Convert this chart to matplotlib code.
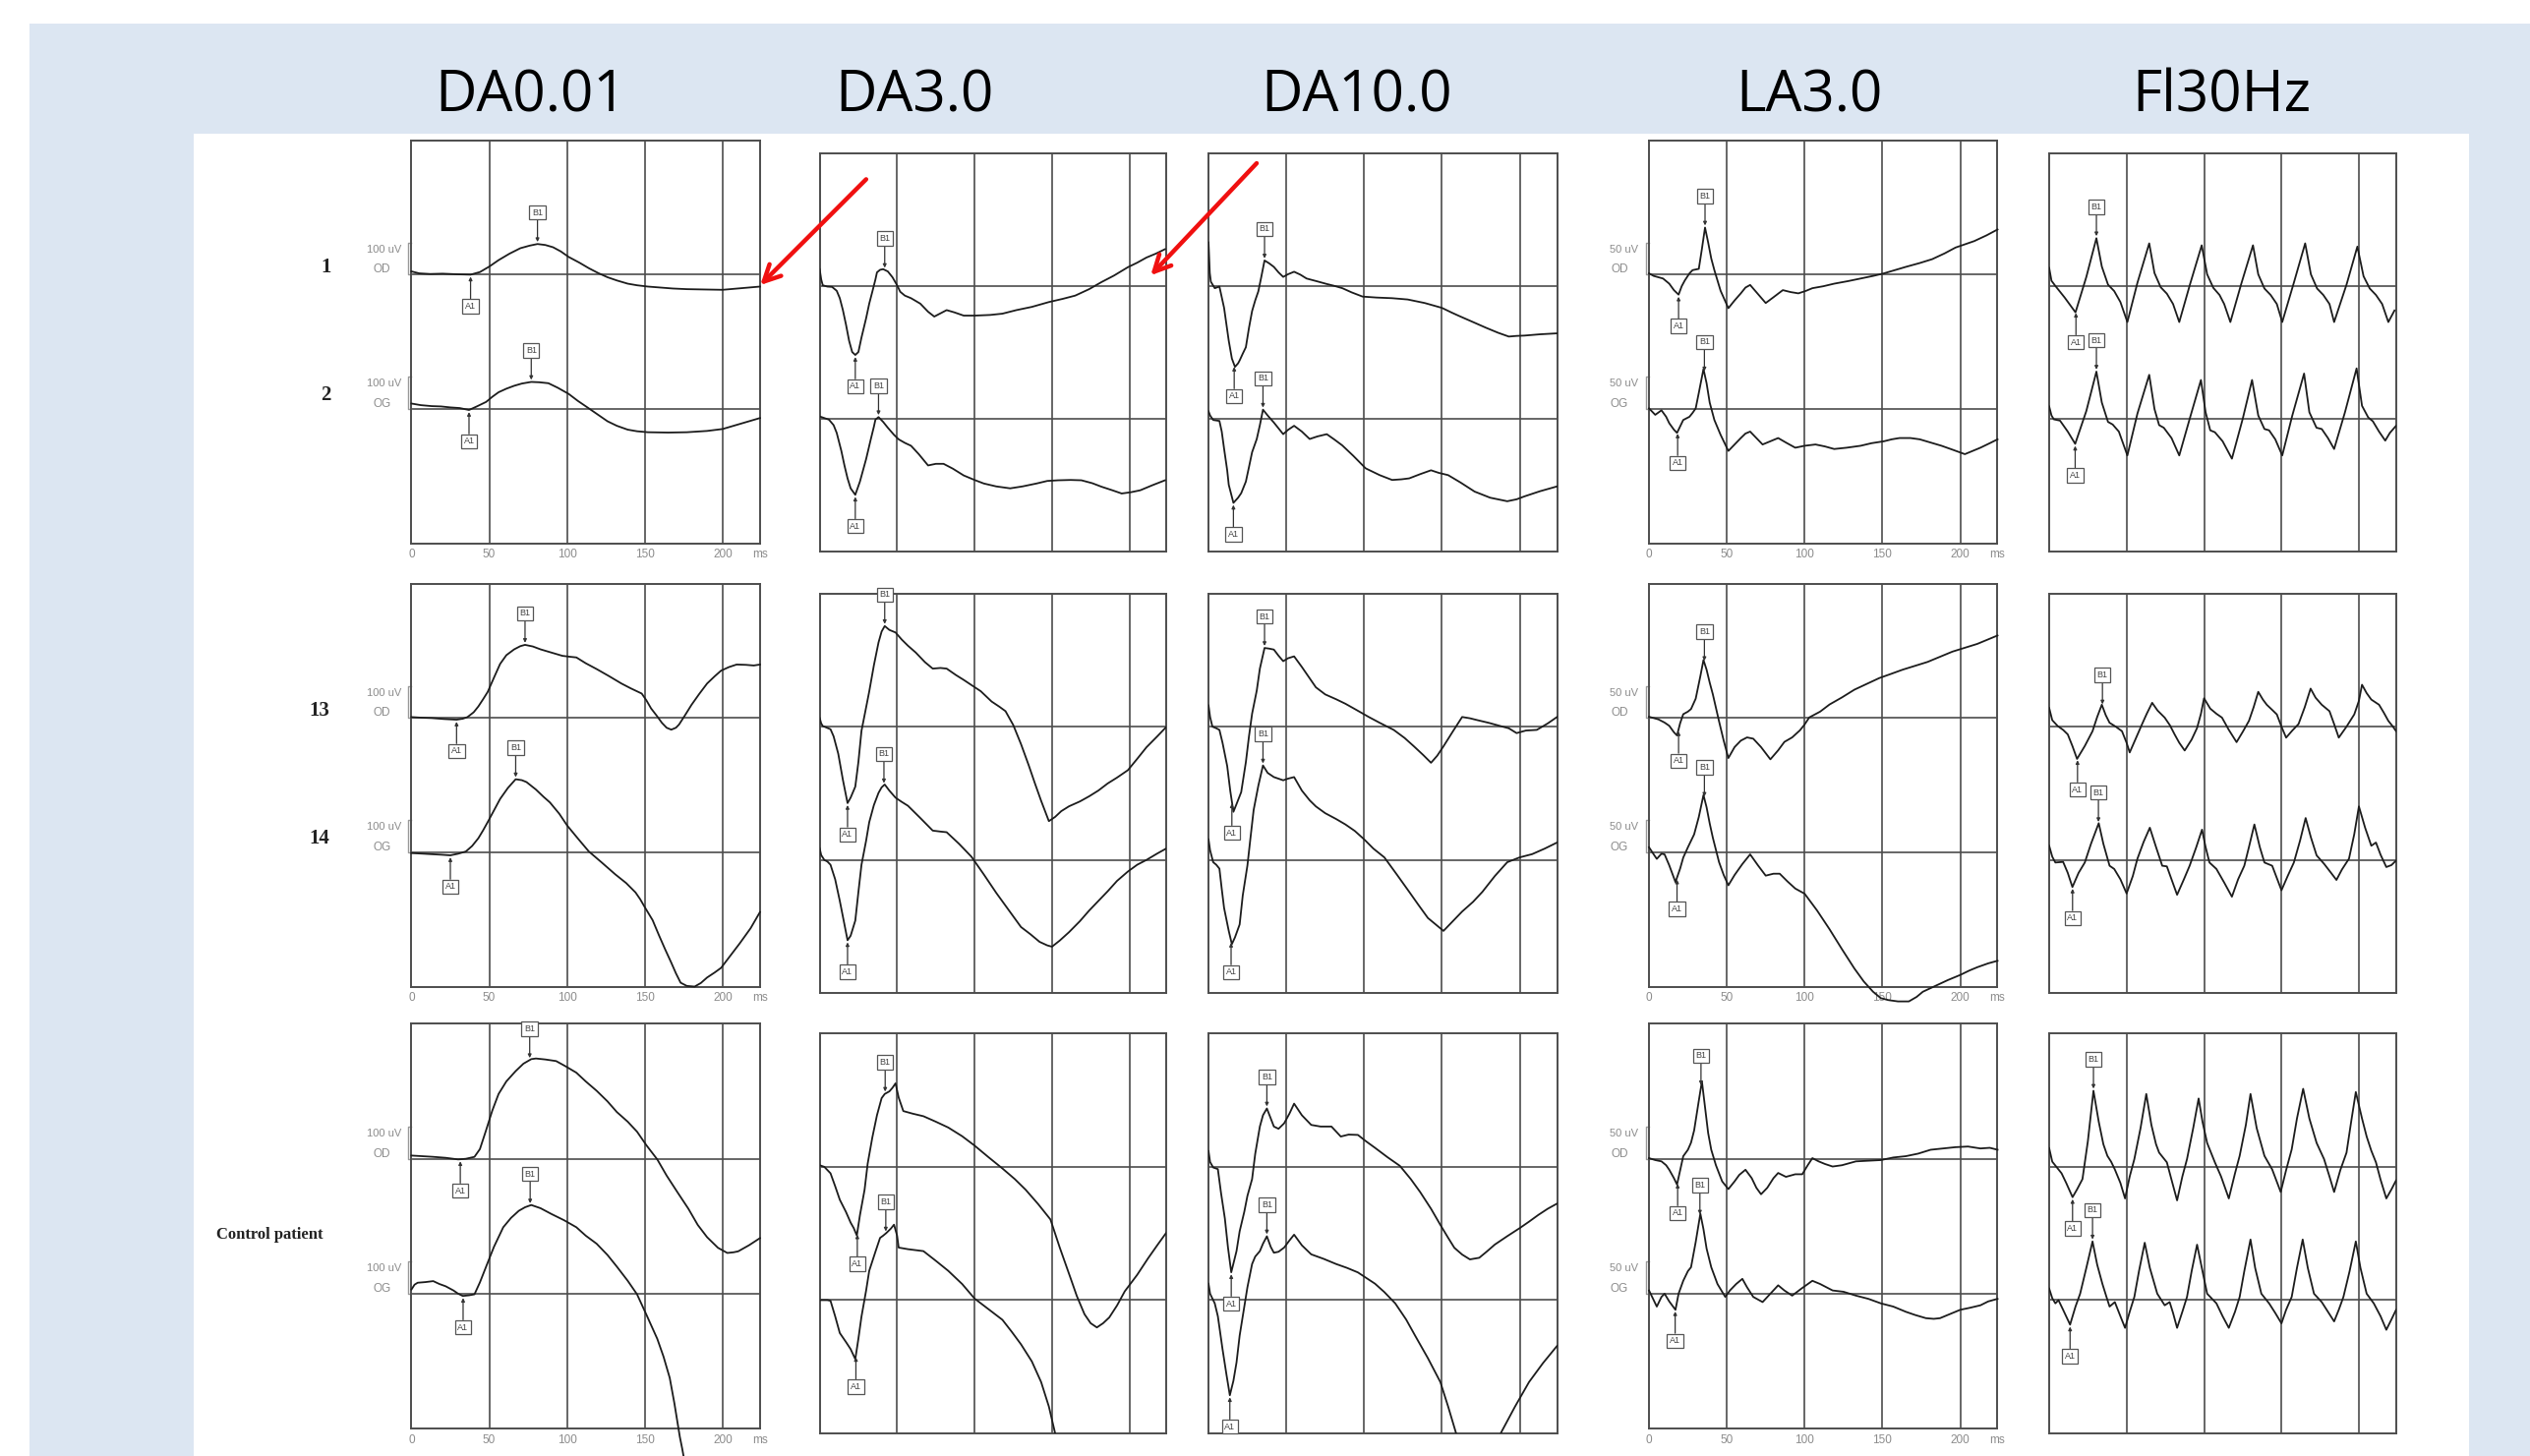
import numpy as np
import matplotlib
matplotlib.use('Agg')
import matplotlib.pyplot as plt
from matplotlib.patches import Rectangle, FancyArrowPatch

# ERG recordings: (time in ms, amplitude in uV)
# row 1 = patient eyes 1/2, row 2 = eyes 13/14, row 3 = control patient

r1_da001_od = [(0, 10), (5, 4), (12, 2), (20, 3), (30, 1), (38, 0), (44, 8), (50, 25), (56, 45), (63, 65), (70, 82),
               (76, 90), (81, 95), (86, 92), (91, 85), (96, 72), (101, 55), (108, 37), (114, 20), (120, 5), (126, -8),
               (132, -18), (139, -28), (145, -33), (152, -37), (160, -40), (168, -43), (177, -45), (188, -46),
               (200, -47), (212, -42), (224, -37)]
r1_da001_og = [(0, 17), (6, 12), (13, 9), (19, 8), (25, 5), (31, 3), (37, -3), (42, 8), (48, 22), (52, 38), (56, 52),
               (61, 63), (66, 72), (71, 79), (77, 84), (82, 83), (88, 80), (94, 66), (101, 47), (107, 25), (114, 2),
               (120, -18), (126, -38), (132, -52), (139, -64), (145, -69), (152, -72), (165, -73), (177, -72),
               (190, -68), (200, -62), (212, -45), (224, -28)]
r1_da30_od = [(0, 52), (1, 20), (2, 2), (5, -2), (8, -3), (11, -15), (13, -38), (15, -75), (17, -120), (19, -170),
              (21, -205), (23, -214), (25, -205), (27, -160), (30, -100), (32, -55), (34, -18), (36, 20), (37, 42),
              (39, 50), (41, 52), (44, 45), (47, 27), (50, 2), (52, -18), (55, -30), (59, -38), (65, -55), (70, -80),
              (74, -95), (78, -85), (82, -75), (87, -82), (93, -92), (100, -92), (110, -90), (118, -86), (127, -75),
              (137, -65), (148, -50), (157, -40), (165, -30), (174, -10), (182, 12), (190, 32), (199, 58), (205, 72),
              (211, 88), (217, 100), (223, 114)]
r1_da30_og = [(0, 7), (3, 2), (6, -3), (9, -20), (11, -44), (14, -100), (16, -145), (18, -185), (20, -216),
              (23, -236), (26, -195), (28, -160), (30, -125), (33, -64), (35, -25), (36, -3), (38, 5), (41, -10),
              (44, -28), (48, -50), (51, -64), (55, -75), (59, -84), (64, -110), (70, -145), (75, -140), (80, -140),
              (86, -155), (93, -176), (100, -190), (106, -201), (114, -210), (123, -216), (131, -210), (140, -201),
              (147, -193), (154, -191), (162, -190), (169, -191), (176, -200), (182, -211), (189, -222), (195, -232),
              (201, -228), (207, -222), (215, -206), (223, -191)]
r1_da10_od = [(0, 135), (0.8, 40), (1.5, 13), (4, -7), (7, -2), (10, -68), (13, -170), (15, -225), (17, -251),
              (19, -240), (20, -231), (22, -210), (24, -190), (26, -130), (28, -78), (30, -45), (32, -17), (34, 30),
              (36, 79), (39, 70), (42, 59), (45, 42), (48, 28), (51, 36), (55, 44), (59, 35), (63, 23), (70, 14),
              (76, 6), (81, 0), (86, -7), (92, -20), (99, -33), (108, -36), (118, -38), (128, -42), (139, -53),
              (150, -68), (156, -82), (161, -93), (170, -112), (178, -129), (186, -145), (193, -157), (198, -155),
              (203, -154), (213, -150), (224, -147)]
r1_da10_og = [(0, 23), (1, 10), (3, -4), (7, -7), (8.5, -40), (10, -93), (12, -160), (13, -205), (16, -261),
              (19, -245), (21, -231), (24, -195), (26, -150), (28, -104), (31, -63), (33, -20), (35, 28), (38, 10),
              (42, -12), (45, -30), (48, -48), (51, -35), (55, -22), (60, -40), (65, -63), (70, -55), (76, -48),
              (81, -65), (86, -83), (93, -115), (101, -154), (110, -175), (118, -190), (124, -188), (129, -185),
              (136, -172), (143, -160), (148, -168), (154, -175), (162, -198), (171, -226), (181, -245), (192, -256),
              (198, -250), (203, -241), (213, -225), (224, -210)]
r1_la30_od = [(0, 2), (3, -2), (6, -4), (9, -6), (13, -14), (16, -24), (19, -31), (21, -18), (23, -9), (26, 2),
              (28, 7), (32, 9), (34, 40), (36, 73), (38, 50), (40, 25), (42, 7), (46, -25), (51, -52), (55, -40),
              (59, -29), (62, -20), (65, -16), (70, -30), (75, -44), (80, -35), (86, -24), (91, -27), (96, -29),
              (101, -25), (105, -21), (112, -18), (119, -14), (128, -10), (136, -6), (144, -2), (151, 2), (158, 7),
              (165, 12), (174, 18), (182, 24), (190, 33), (197, 42), (203, 47), (209, 52), (217, 61), (224, 70)]
r1_la30_og = [(0, 1), (4, -9), (8, -2), (11, -12), (13, -22), (16, -32), (18, -37), (20, -27), (22, -17), (26, -12),
              (28, -6), (30, 1), (32, 25), (35, 62), (37, 40), (39, 10), (42, -17), (46, -40), (51, -65), (55, -55),
              (59, -45), (62, -38), (65, -35), (69, -45), (73, -55), (78, -50), (83, -45), (88, -52), (94, -60),
              (100, -57), (107, -55), (113, -58), (119, -62), (127, -60), (136, -57), (143, -53), (151, -50),
              (156, -47), (161, -45), (168, -45), (174, -47), (181, -52), (188, -57), (195, -63), (203, -70),
              (208, -65), (213, -60), (219, -53), (224, -47)]
r1_fl30_od = [(0, 28), (1.5, 8), (4, 0), (10, -18), (17, -41), (24, 14), (30.5, 74), (34, 30), (38, 2), (42, -8),
              (46, -25), (50.5, -56), (57, 5), (64.6, 66), (68, 20), (72, -2), (76, -12), (80, -28), (84, -56),
              (91, 3), (98.5, 63), (102, 18), (106, -3), (110, -14), (113, -28), (117, -56), (124, 3), (131.6, 63),
              (135, 18), (139, -4), (143, -14), (147, -28), (150.5, -56), (158, 5), (165.3, 66), (169, 18),
              (173, -4), (177, -14), (181, -28), (184, -56), (192, 2), (199, 61), (203, 15), (207, -4), (211, -14),
              (215, -28), (219, -56), (223, -38)]
r1_fl30_og = [(0, 19), (1.5, 5), (3, -1), (7, -3), (12, -20), (16.8, -39), (24, 12), (30.5, 73), (34, 25), (38, -5),
              (41, -9), (45, -20), (50.5, -57), (57, 8), (64.6, 68), (68, 15), (71, -10), (74, -14), (79, -30),
              (84, -57), (91, 2), (98, 60), (101, 10), (104, -18), (107, -21), (112, -35), (118, -62), (125, 0),
              (131, 60), (135, 5), (139, -16), (142, -18), (146, -32), (150.5, -57), (157, 5), (164.6, 70),
              (168, 10), (172.6, -14), (176, -16), (180, -30), (184, -47), (191, 10), (198.5, 78), (202, 20),
              (206, 2), (209, -4), (213, -20), (217, -34), (220, -22), (224, -11)]

r2_da001_od = [(0, 3), (7, 1), (13, 0), (21, -3), (29, -5), (33, -2), (36, 3), (40, 18), (43, 36), (46, 58),
               (49, 81), (53, 125), (57, 168), (61, 195), (66, 213), (70, 223), (73, 227), (78, 222), (83, 213),
               (90, 203), (97, 193), (102, 190), (106, 188), (112, 170), (119, 152), (127, 130), (135, 107),
               (141, 92), (148, 76), (151, 55), (154, 30), (158, 5), (161, -15), (164, -30), (167, -36), (170, -30),
               (172, -20), (176, 10), (180, 41), (185, 75), (190, 107), (195, 130), (199, 147), (204, 158),
               (209, 166), (215, 165), (220, 163), (224, 166)]
r2_da001_og = [(0, -2), (8, -4), (15, -6), (19, -7), (25, -9), (30, -4), (35, 3), (39, 20), (43, 44), (46, 68),
               (49, 94), (53, 130), (57, 166), (62, 200), (67, 227), (71, 224), (74, 218), (80, 195), (85, 172),
               (89, 155), (95, 120), (100, 84), (107, 43), (114, 3), (122, -30), (131, -68), (138, -95), (144, -124),
               (147, -145), (150, -170), (155, -210), (159, -256), (163, -300), (167, -342), (170, -375),
               (173, -404), (177, -414), (182, -416), (186, -405), (190, -388), (195, -372), (199, -358),
               (205, -320), (211, -282), (218, -235), (224, -185)]
r2_da30_od = [(0, 27), (1, 10), (2, 2), (4.5, -3), (7, -8), (9, -30), (12, -84), (15, -165), (18, -237), (20, -220),
              (23, -186), (25, -110), (27, -13), (30, 60), (32, 109), (35, 190), (38, 261), (40, 295), (42, 312),
              (45, 300), (49, 292), (53, 270), (57, 251), (62, 230), (68, 200), (73, 180), (78, 182), (82, 180),
              (88, 160), (93, 145), (98, 129), (104, 110), (111, 78), (116, 62), (120, 48), (125, 5), (130, -54),
              (135, -120), (139, -176), (143, -230), (148, -293), (152, -280), (156, -262), (161, -247), (168, -232),
              (174, -216), (180, -198), (186, -176), (192, -158), (199, -135), (205, -100), (211, -64), (218, -30),
              (224, 0)]
r2_da30_og = [(0, 36), (1, 15), (3, 0), (5, -5), (7, -15), (10, -60), (13, -127), (16, -200), (18, -249),
              (20, -235), (23, -188), (25, -100), (27, -15), (30, 60), (32, 117), (35, 170), (38, 208), (40, 225),
              (42, 234), (45, 215), (49, 193), (53, 180), (57, 168), (65, 130), (73, 91), (78, 88), (82, 86),
              (90, 50), (98, 10), (106, -45), (114, -102), (122, -155), (130, -208), (136, -230), (142, -254),
              (147, -265), (150, -269), (155, -250), (161, -224), (168, -190), (174, -157), (180, -127), (186, -97),
              (192, -65), (199, -36), (205, -15), (211, 0), (218, 20), (224, 36)]
r2_da10_od = [(0, 66), (1, 30), (2.5, 0), (5, -5), (7, -10), (9, -50), (12, -122), (14, -200), (16, -264),
              (18, -240), (21, -203), (24, -110), (26, -30), (28, 40), (31, 112), (33, 180), (36, 244), (39, 242),
              (42, 239), (45, 220), (48, 203), (51, 212), (55, 218), (60, 185), (65, 150), (69, 122), (75, 100),
              (82, 85), (88, 71), (95, 52), (103, 30), (110, 12), (119, -10), (126, -35), (132, -61), (138, -88),
              (143, -112), (147, -90), (151, -61), (157, -15), (163, 30), (168, 26), (173, 20), (180, 12), (189, 0),
              (193, -5), (198, -20), (204, -12), (211, -10), (218, 10), (224, 30)]
r2_da10_og = [(0, 64), (1, 30), (3, -7), (5, -15), (7, -27), (8.5, -90), (10, -149), (13, -220), (15, -261),
              (17, -240), (20, -200), (22, -110), (25, -17), (27, 70), (29, 155), (32, 230), (35, 293), (38, 270),
              (42, 257), (45, 252), (48, 247), (51, 252), (55, 257), (60, 215), (65, 185), (69, 166), (75, 145),
              (82, 127), (88, 110), (94, 90), (100, 64), (106, 35), (113, 8), (121, -45), (129, -99), (135, -140),
              (141, -180), (146, -200), (151, -220), (157, -190), (163, -160), (170, -130), (176, -99), (184, -50),
              (192, -7), (200, 8), (208, 18), (216, 35), (224, 54)]
r2_la30_od = [(0, 2), (3, 0), (6, -2), (10, -7), (13, -12), (16, -22), (18, -27), (20, -8), (22, 6), (25, 10),
              (27, 14), (30, 30), (33, 65), (35, 90), (37, 75), (39, 55), (41, 37), (45, -5), (48, -35), (51, -62),
              (55, -45), (59, -35), (63, -30), (67, -32), (72, -45), (78, -64), (83, -50), (87, -37), (92, -30),
              (97, -19), (100, -10), (103, 1), (110, 10), (116, 21), (124, 32), (132, 44), (140, 53), (148, 62),
              (155, 68), (163, 75), (171, 81), (179, 87), (187, 95), (195, 103), (203, 109), (211, 115), (218, 122),
              (224, 128)]
r2_la30_og = [(0, 8), (3, -3), (5, -10), (8, -2), (10, -3), (13, -20), (17, -46), (20, -25), (22, -8), (25, 8),
              (29, 28), (32, 55), (35, 89), (37, 70), (39, 45), (41, 23), (45, -15), (48, -35), (51, -51), (55, -35),
              (60, -18), (65, -3), (70, -20), (75, -36), (80, -33), (84, -33), (89, -45), (94, -56), (100, -64),
              (108, -90), (116, -119), (124, -150), (132, -180), (138, -200), (144, -216), (149, -226), (154, -229),
              (160, -231), (167, -231), (172, -224), (176, -216), (184, -207), (192, -198), (200, -190), (206, -183),
              (211, -178), (218, -172), (224, -168)]
r2_fl30_od = [(0, 29), (2, 10), (5.5, 1), (9, -5), (12, -12), (15, -30), (18, -50), (23, -30), (28, -7), (31, 15),
              (34, 34), (36.5, 18), (39, 6), (43, 0), (47, -7), (50, -25), (52, -40), (56, -18), (60, 4), (63, 20),
              (66.5, 37), (70, 25), (74.6, 14), (78, 2), (81, -12), (84, -25), (87.5, -37), (92, -20), (95.5, -2),
              (98, 20), (100, 44), (104, 28), (108, 20), (111.6, 14), (116, -5), (121, -24), (125, -8), (129, 9),
              (132, 30), (135, 54), (138, 42), (140.5, 34), (144, 26), (147, 19), (150, 0), (153, -17), (157, -6),
              (161, 4), (165, 30), (168.8, 59), (172, 45), (176, 34), (181, 24), (184, 4), (187, -17), (192, 0),
              (197, 19), (200, 40), (202, 65), (205, 52), (208, 42), (213, 34), (216, 22), (219, 9), (222, 0),
              (224, -7)]
r2_fl30_og = [(0, 22), (2, 5), (4, -4), (9, -3), (12, -20), (15, -42), (19, -20), (23, -4), (27, 25), (32, 57),
              (35, 25), (39, -9), (42, -14), (46, -30), (50, -52), (54, -25), (57, 2), (61, 28), (65, 50), (69, 20),
              (73, -9), (76, -10), (79, -30), (82.6, -54), (87, -30), (90.7, -9), (95, 20), (98.7, 47), (101, 20),
              (103.5, -4), (108, -14), (113, -35), (118, -57), (122, -30), (126, -9), (129, 20), (132.5, 55),
              (136, 20), (139, -4), (144, -9), (147, -28), (150, -47), (154, -25), (158, -4), (162, 30),
              (165.6, 65), (169, 35), (172.7, 7), (177.5, -6), (182, -20), (185.5, -31), (189, -15), (193.6, 2),
              (197, 40), (200, 83), (204, 50), (208, 22), (211, 27), (214, 8), (217.7, -11), (221, -8), (224, -1)]

r3_da001_od = [(0, 10), (7, 8), (14, 6), (22, 3), (30, -2), (35, 0), (40.5, 6), (44, 30), (48, 89), (52, 150),
               (56, 201), (61, 240), (67, 272), (72, 295), (77, 309), (80, 311), (86, 308), (93, 303), (99, 287),
               (106, 267), (112, 240), (119, 211), (126, 178), (132, 145), (139, 115), (145, 84), (151, 42),
               (158, -2), (164, -52), (171, -104), (178, -155), (184, -205), (190, -243), (197, -276), (203, -292),
               (207, -290), (210, -287), (217, -268), (224, -246)]
r3_da001_og = [(0, 13), (2, 28), (4, 34), (9, 36), (14, 39), (18, 30), (22, 23), (27, 10), (30, 0), (33, -7),
               (37, -5), (40.5, -2), (44, 35), (48, 84), (53, 145), (59, 206), (64, 235), (69, 257), (73, 268),
               (77, 275), (83, 265), (90, 247), (98, 228), (106, 206), (112, 180), (119, 155), (126, 120), (132, 84),
               (139, 40), (145, -2), (151, -65), (158, -140), (162, -195), (166, -261), (169, -340), (172.5, -444),
               (174, -480), (177, -560)]
r3_da30_od = [(0, 5), (3, 0), (7, -20), (10, -60), (13, -102), (17, -140), (20, -173), (22, -190), (24, -213),
              (26, -150), (29, -71), (31, 10), (34, 91), (37, 160), (40, 213), (42, 226), (45, 234), (47, 245),
              (49, 259), (51, 215), (54, 173), (60, 165), (67, 157), (75, 140), (83, 122), (92, 95), (100, 66),
              (109, 30), (118, -5), (126, -38), (133, -71), (141, -115), (149, -163), (155, -250), (162, -345),
              (166, -400), (171, -457), (175, -485), (179, -498), (183, -485), (187, -467), (192, -430), (197, -386),
              (205, -335), (212, -284), (218, -243), (224, -203)]
r3_da30_og = [(0, 0), (5, 0), (7, -2), (10, -50), (13, -102), (17, -130), (20, -152), (23, -183), (25, -120),
              (27, -51), (30, 30), (32, 91), (36, 150), (39, 193), (41, 200), (43, 208), (46, 222), (48, 234),
              (50, 200), (51, 163), (57, 158), (67, 152), (75, 122), (83, 91), (92, 50), (100, 5), (109, -28),
              (118, -61), (124, -98), (130, -137), (137, -190), (143, -254), (148, -330), (152, -412), (159, -508),
              (165, -600)]
r3_da10_od = [(0, 49), (1, 15), (3, -2), (6, -7), (8, -80), (10.5, -160), (12.5, -250), (14.6, -327), (16, -300),
              (18, -261), (20, -200), (23, -139), (25, -90), (28, -38), (30, 40), (33, 125), (35, 160),
              (37.5, 181), (40, 150), (42, 125), (45, 118), (48.6, 135), (52, 165), (55, 196), (60, 160), (66, 130),
              (72, 125), (79, 125), (85, 94), (90, 100), (96, 99), (101, 80), (107, 59), (115, 30), (123, 3),
              (130, -38), (136, -78), (143, -130), (149, -180), (154, -220), (158, -251), (163, -272), (168, -287),
              (174, -282), (179, -262), (184, -241), (192, -215), (200, -190), (206, -170), (212, -149),
              (218, -130), (224, -114)]
r3_da10_og = [(0, 51), (1, 20), (4, -10), (6, -50), (9, -152), (11.5, -230), (13.7, -295), (16, -250), (18, -193),
              (20, -110), (23, -20), (25, 40), (28, 112), (30, 135), (33, 152), (35, 175), (37.5, 198), (40, 165),
              (42, 147), (45, 150), (48.6, 163), (52, 185), (55, 203), (60, 170), (66, 142), (74, 128), (82, 112),
              (89, 100), (96, 86), (101, 70), (107, 51), (113, 25), (120, -10), (127, -60), (133, -112), (141, -180),
              (149, -254), (154, -330), (159, -411), (165, -488), (175, -520), (184, -488), (188, -411), (197, -330),
              (206, -254), (215, -195), (224, -142)]
r3_la30_od = [(0, 1), (4, -2), (8, -4), (11, -10), (13, -17), (16, -30), (18, -40), (20, -18), (22, 4), (25, 14),
              (27, 25), (29, 44), (32, 90), (34, 120), (36, 80), (38, 40), (40, 14), (43, -10), (47, -35), (51, -47),
              (55, -35), (58, -25), (62, -17), (66, -30), (69, -45), (72, -55), (76, -45), (80, -30), (83, -22),
              (88, -28), (94, -24), (98.5, -24), (102, -10), (105, 1), (109, -4), (113, -8), (118, -12), (124, -10),
              (133, -4), (141, -3), (149, -2), (157, 2), (165, 4), (173, 8), (181, 14), (189, 16), (197, 18),
              (205, 19), (213, 16), (219, 17), (224, 14)]
r3_la30_og = [(0, 5), (2, -5), (5, -20), (8, -5), (10, 0), (13, -12), (17, -25), (19, 0), (22, 20), (25, 35),
              (27, 41), (30, 80), (33, 124), (35, 100), (37, 70), (40, 41), (44, 15), (49, -5), (52, 5), (56, 15),
              (60, 23), (63, 10), (67, -5), (73, -13), (78, 0), (83, 13), (87, 5), (92, -3), (98, 8), (105, 20),
              (110, 15), (118, 5), (125, 3), (133, -3), (141, -8), (149, -15), (157, -20), (165, -28), (171, -33),
              (178, -38), (183, -39), (187, -38), (193, -32), (200, -25), (206, -22), (213, -18), (218, -12),
              (224, -8)]
r3_fl30_od = [(0, 29), (2, 8), (4, 2), (8, -10), (11, -25), (15.1, -47), (18, -35), (21.5, -19), (25, 40),
              (28.6, 118), (32, 70), (35, 35), (37.6, 17), (40, 8), (42.4, -4), (46, -25), (49, -49), (52, -15),
              (55, 12), (59, 60), (62.7, 113), (66, 65), (69, 35), (71, 22), (76, 7), (79, -20), (82.6, -52),
              (86, -15), (89, 12), (93, 60), (96.5, 106), (99, 70), (102, 37), (107, 7), (111, -15), (116, -49),
              (120, -10), (123, 17), (127, 65), (130, 113), (134, 60), (139, 17), (144, -4), (149.5, -39),
              (153, -5), (156.6, 27), (160, 75), (164, 121), (168, 75), (172.7, 37), (177.5, 12), (181, -15),
              (184, -39), (188, -5), (192, 22), (195, 70), (198, 116), (202, 75), (205, 47), (208, 25), (211, 7),
              (214, -20), (217.7, -49), (221, -35), (224, -21)]
r3_fl30_og = [(0, 18), (2, 3), (4, -5), (6, 0), (9, -15), (13.5, -38), (17, -10), (20, 10), (24, 50), (28, 91),
              (31, 55), (34.4, 25), (37, 5), (39, -10), (42.4, -3), (46, -25), (49, -43), (52, -18), (55, 5),
              (58, 45), (61.7, 89), (65, 50), (69.8, 10), (74.6, -8), (77.8, -3), (80, -20), (82.6, -43), (86, -18),
              (89, 5), (92, 45), (95.5, 86), (99, 45), (102, 10), (108, -5), (112, -25), (116, -43), (120, -18),
              (123, 5), (126, 45), (130, 94), (133, 50), (137, 10), (142, -5), (146, -20), (150, -36), (153, -15),
              (156.6, 5), (160, 50), (163.7, 94), (167, 50), (171, 10), (176, -3), (180, -18), (184, -33),
              (187, -15), (190, 5), (194, 45), (198, 91), (201, 50), (205, 10), (209.6, -5), (214, -25),
              (217.7, -46), (221, -30), (224, -15)]

# implicit times of the A1 / B1 markers, [protocol][OD, OG]
a1_r1 = [[38, 37], [23, 23], [16.5, 16], [19, 18.4], [17.3, 16.8]]
b1_r1 = [[81, 77], [42, 38], [36, 35], [36, 35.6], [30.5, 30.5]]
a1_r2 = [[29, 25], [18, 18], [15, 14.5], [19, 18], [18.3, 15.1]]
b1_r2 = [[73, 67], [42, 41.5], [36, 35], [35.6, 35.6], [34.4, 31.8]]
a1_r3 = [[31.4, 33.2], [24.3, 23.4], [14.6, 13.7], [18.4, 16.8], [15.1, 13.5]]
b1_r3 = [[76, 76.3], [42.3, 42.7], [37.5, 37.5], [33.4, 32.7], [28.6, 28]]

protocols = ['DA0.01', 'DA3.0', 'DA10.0', 'LA3.0', 'Fl30Hz']
eyes = ['OD', 'OG']
scale_bar_uv = [100, None, None, 50, None]

traces = [
    [(r1_da001_od, r1_da001_og), (r1_da30_od, r1_da30_og), (r1_da10_od, r1_da10_og),
     (r1_la30_od, r1_la30_og), (r1_fl30_od, r1_fl30_og)],
    [(r2_da001_od, r2_da001_og), (r2_da30_od, r2_da30_og), (r2_da10_od, r2_da10_og),
     (r2_la30_od, r2_la30_og), (r2_fl30_od, r2_fl30_og)],
    [(r3_da001_od, r3_da001_og), (r3_da30_od, r3_da30_og), (r3_da10_od, r3_da10_og),
     (r3_la30_od, r3_la30_og), (r3_fl30_od, r3_fl30_og)],
]
a1_times = [a1_r1, a1_r2, a1_r3]
b1_times = [b1_r1, b1_r2, b1_r3]

# ---- layout (in pixels of a 1568x903 reference grid) ----
REF_W, REF_H = 1568, 903
col_x = [(255, 471), (508, 723), (749, 965), (1022, 1238), (1270, 1485)]
rows_tall = [(87, 337), (362, 612), (635, 886)]
rows_short = [(95, 342), (368, 616), (641, 889)]
uv_per_px = [5, 5, 5, 2.5, 2.5]

GRID = '#4d4d4d'
INK = '#1c1c1c'
LABEL = '#8c8c8c'


def fx(x):
    return x / REF_W


def fy(y):
    return 1 - y / REF_H


def mark(ax, t, y, label, above):
    ax.annotate(label, xy=(t, y), xytext=(0, 23 if above else -23), textcoords='offset points',
                ha='center', va='center', fontsize=6.5, color='#444', family='Liberation Sans',
                bbox=dict(boxstyle='square,pad=0.3', fc='white', ec='#555', lw=0.9),
                arrowprops=dict(arrowstyle='-|>', color='#333', lw=0.9, mutation_scale=5,
                                shrinkA=0, shrinkB=1.5),
                annotation_clip=False, zorder=5)


fig = plt.figure(figsize=(25.73, 14.81), dpi=100)
fig.patch.set_facecolor('white')
fig.add_artist(Rectangle((fx(18), 0), 1 - fx(18), fy(14.6), transform=fig.transFigure,
                         fc='#dce6f2', ec='none', zorder=-10))
fig.add_artist(Rectangle((fx(120), 0), fx(1530) - fx(120), fy(83), transform=fig.transFigure,
                         fc='white', ec='none', zorder=-9))

title_x = [329, 567, 841, 1121, 1377]
for name, x in zip(protocols, title_x):
    fig.text(fx(x), fy(60), name, fontsize=42, family='Open Sans', ha='center', va='center', color='black')

for r in range(3):
    for c in range(5):
        tall = c in (0, 3)
        x0, x1 = col_x[c]
        y0, y1 = (rows_tall if tall else rows_short)[r]
        ax = fig.add_axes([fx(x0), fy(y1), fx(x1) - fx(x0), fy(y0) - fy(y1)])
        step = (y1 - y0) / 3 * uv_per_px[c]
        ax.set_xlim(0, 224)
        ax.set_ylim(-2 * step, step)
        ax.set_facecolor('white')
        ax.set_yticks([])
        for sp in ax.spines.values():
            sp.set_color(GRID)
            sp.set_linewidth(1.4)
        for t in (50, 100, 150, 200):
            ax.axvline(t, color=GRID, lw=1.2, zorder=1)

        if tall:
            ax.set_xticks([0, 50, 100, 150, 200, 224])
            ax.set_xticklabels(['0', '50', '100', '150', '200', 'ms'], fontsize=8.5, color=LABEL,
                               family='Liberation Sans')
            ax.tick_params(axis='x', length=0, pad=4)
        else:
            ax.set_xticks([])

        for k in range(2):
            base = -k * step
            ax.axhline(base, color=GRID, lw=1.2, zorder=1)
            tr = np.array(traces[r][c][k], dtype=float)
            # the DA0.01 and LA3.0 recordings run past the frame in the source, the others are cut at it
            ax.plot(tr[:, 0], tr[:, 1] + base, color=INK, lw=1.3, zorder=3, clip_on=not tall)
            ta, tb = a1_times[r][c][k], b1_times[r][c][k]
            mark(ax, ta, np.interp(ta, tr[:, 0], tr[:, 1]) + base, 'A1', above=False)
            mark(ax, tb, np.interp(tb, tr[:, 0], tr[:, 1]) + base, 'B1', above=True)

            if scale_bar_uv[c]:
                bar = scale_bar_uv[c]
                ax.plot([0, -2.2, -2.2, 0], [base + bar, base + bar, base, base], color='#999', lw=1.0,
                        clip_on=False, zorder=2)
                trans = ax.get_yaxis_transform()
                ax.text(-0.03, base + bar * 0.78, f'{bar} uV', transform=trans, ha='right', va='center',
                        fontsize=8, color=LABEL, family='Liberation Sans')
                ax.text(-0.085, base + 3 * uv_per_px[c], eyes[k], transform=trans, ha='center', va='center',
                        fontsize=8.5, color=LABEL, family='Liberation Sans')

# row labels
for txt, x, y in [('1', 202, 166), ('2', 202, 245), ('13', 198, 441), ('14', 198, 520)]:
    fig.text(fx(x), fy(y), txt, fontsize=15, family='Liberation Serif', weight='bold',
             ha='center', va='center', color='#222')
fig.text(fx(167), fy(766), 'Control patient', fontsize=12, family='Liberation Serif', weight='bold',
         ha='center', va='center', color='#222')

# red arrows pointing at the late parts of the DA0.01 / DA3.0 responses
for (xa, ya), (xb, yb) in [((538, 110), (470, 178)), ((780, 100), (712, 172))]:
    fig.add_artist(FancyArrowPatch((fx(xa), fy(ya)), (fx(xb), fy(yb)), transform=fig.transFigure,
                                   arrowstyle='->', mutation_scale=30, color='#f01010', lw=3.2, zorder=20))

fig.savefig('out.png', dpi=100)
